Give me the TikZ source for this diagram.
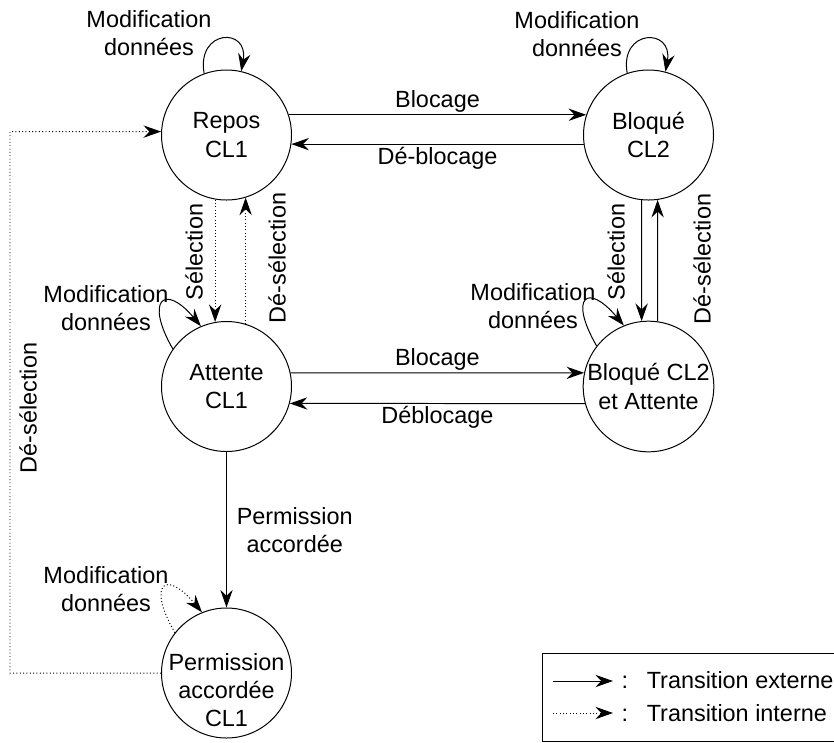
\documentclass[tikz,border=0pt]{standalone}
\usepackage{fontspec}
\setmainfont{Liberation Sans}
\usetikzlibrary{arrows.meta}

\tikzset{
  etat/.style={circle, draw, minimum size=3.9cm, inner sep=0pt, align=center},
  externe/.style={-{Stealth[length=15pt,width=10.5pt,inset=5pt]}},
  interne/.style={externe, dotted},
  lbl/.style={align=center},
  arete/.style={inner sep=2pt},
}

\begin{document}
\begin{tikzpicture}[x=0.03cm, y=0.03cm, line width=0.85pt, font=\fontsize{20}{24}\selectfont]
    \useasboundingbox (0,0) rectangle (834,-742);

    % etats
    \node[etat] (repos) at (226.5,-135) {Repos\\CL1};
    \node[etat] (bloque) at (648.5,-135) {Bloqué\\CL2};
    \node[etat] (attente) at (226.5,-386.5) {Attente\\CL1};
    \node[etat] (bloqueatt) at (648.5,-386.5) {Bloqué CL2\\et Attente};
    \node[etat] (perm) at (226.5,-673) {};
    \node[lbl] (permtexte) at (226.5,-690) {Permission\\accordée\\CL1};

    % transitions horizontales
    \draw[externe] (repos.18) -- node[above, arete] (lbloc1) {Blocage} (bloque.162);
    \draw[externe] (bloque.188) -- node[below, arete] (ldebloc1) {Dé-blocage} (repos.352);
    \draw[externe] (attente.12) -- node[above, arete] (lbloc2) {Blocage} (bloqueatt.168);
    \draw[externe] (bloqueatt.195) -- node[below, arete] (ldebloc2) {Déblocage} (attente.345);

    % transitions verticales
    \draw[interne] (repos.260) -- (attente.100);
    \draw[interne] (attente.73) -- (repos.287);
    \draw[externe] (bloque.264) -- (bloqueatt.96);
    \draw[externe] (bloqueatt.82) -- (bloque.278);
    \draw[externe] (attente.south) -- node[right=5pt, lbl] (lperm) {Permission\\accordée} (perm.north);

    \node[rotate=90] (lsel1) at (194,-252) {Sélection};
    \node[rotate=90] (ldesel1) at (277,-258) {Dé-sélection};
    \node[rotate=90] (lsel2) at (616,-252) {Sélection};
    \node[rotate=90] (ldesel2) at (702,-259) {Dé-sélection};

    % retour au repos
    \coordinate (coin) at (10,-131.6);
    \draw[interne] (perm.west) -| (coin) -- (repos.177);
    \node[rotate=90] (ldesel3) at (28,-408) {Dé-sélection};

    % boucles
    \draw[externe] (repos.110) to[out=100, in=80, distance=1.35cm] (repos.77);
    \draw[externe] (bloque.109) to[out=100, in=80, distance=1.35cm] (bloque.75);
    \draw[externe] (attente.145) to[out=120, in=130, distance=1.7cm] (attente.113);
    \draw[externe] (bloqueatt.142) to[out=120, in=130, distance=1.7cm] (bloqueatt.112);
    \draw[interne] (perm.142) to[out=120, in=130, distance=1.7cm] (perm.112);

    \node[lbl] (mod1) at (149,-33) {Modification\\données};
    \node[lbl] (mod2) at (577,-34) {Modification\\données};
    \node[lbl] (mod3) at (106,-308) {Modification\\données};
    \node[lbl] (mod4) at (533,-306) {Modification\\données};
    \node[lbl] (mod5) at (106,-589) {Modification\\données};

    % legende
    \draw (542,-653) rectangle (840,-741);
    \coordinate (ext1) at (553,-681);
    \coordinate (ext2) at (613,-681);
    \draw[externe] (ext1) -- (ext2);
    \node[anchor=base west, inner sep=0pt] (lext) at (621,-688) {:\hspace{16pt}Transition externe};
    \coordinate (int1) at (553,-713);
    \coordinate (int2) at (613,-713);
    \draw[interne] (int1) -- (int2);
    \node[anchor=base west, inner sep=0pt] (lint) at (621,-721) {:\hspace{16pt}Transition interne};
\end{tikzpicture}
\end{document}
